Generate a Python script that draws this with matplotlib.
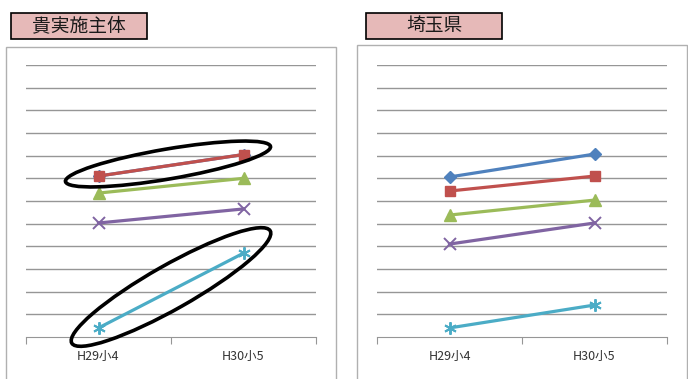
import matplotlib.pyplot as plt
from matplotlib.patches import Rectangle, Ellipse

plt.rcParams['font.family'] = ['Noto Sans CJK JP', 'DejaVu Sans']

categories = ["H29小4", "H30小5"]

# left panel
left_title = "貴実施主体"
left_blue = [7.1, 8.05]
left_red = [7.1, 8.05]
left_green = [6.35, 7.0]
left_purple = [5.03, 5.65]
left_cyan = [0.4, 3.7]

# right panel
right_title = "埼玉県"
right_blue = [7.06, 8.07]
right_red = [6.44, 7.1]
right_green = [5.38, 6.04]
right_purple = [4.1, 5.03]
right_cyan = [0.4, 1.41]

W, H = 688, 379
fig = plt.figure(figsize=(W / 100, H / 100), dpi=100)


def px_axes(x0, y0, x1, y1):
    # pixel box (top-left origin) -> figure fraction axes
    return fig.add_axes([x0 / W, 1 - y1 / H, (x1 - x0) / W, (y1 - y0) / H])


def draw_panel(x0, frame, box, title, blue, red, green, purple, cyan):
    # outer chart frame
    fx0, fy0, fx1, fy1 = frame
    fig.patches.append(Rectangle((fx0 / W, 1 - fy1 / H), (fx1 - fx0) / W, (fy1 - fy0) / H,
                                 transform=fig.transFigure, fill=False,
                                 edgecolor='#b0b0b0', linewidth=1.0))
    # title box
    bx0, by0, bx1, by1 = box
    fig.patches.append(Rectangle((bx0 / W, 1 - by1 / H), (bx1 - bx0) / W, (by1 - by0) / H,
                                 transform=fig.transFigure, facecolor='#e6b9b8',
                                 edgecolor='black', linewidth=1.2))
    fig.text((bx0 + bx1) / 2 / W, 1 - (by0 + by1) / 2 / H, title, ha='center', va='center',
             fontsize=13.5, color='#1a1a1a')

    ax = px_axes(x0, 65, x0 + 290, 337)
    ax.set_xlim(0, 2)
    ax.set_ylim(0, 12)
    for v in range(1, 13):
        ax.axhline(v, color='#969696', linewidth=1.0, zorder=1)
    for s in ax.spines.values():
        s.set_visible(False)
    ax.spines['bottom'].set_visible(True)
    ax.spines['bottom'].set_color('#969696')
    ax.set_yticks([])
    ax.set_xticks([0, 1, 2])
    ax.set_xticklabels([])
    ax.set_xticks([0.5, 1.5], minor=True)
    ax.set_xticklabels(categories, minor=True, fontsize=9, color='#333333')
    ax.tick_params(axis='x', which='major', length=5, color='#969696', direction='out')
    ax.tick_params(axis='x', which='minor', length=0, pad=9)

    xs = [0.5, 1.5]
    lw = 2.3
    ax.plot(xs, blue, color='#4f81bd', lw=lw, marker='D', ms=6, zorder=3)
    ax.plot(xs, red, color='#c0504d', lw=lw, marker='s', ms=7.5, zorder=4)
    ax.plot(xs, green, color='#9bbb59', lw=lw, marker='^', ms=8, zorder=3)
    ax.plot(xs, purple, color='#8064a2', lw=lw, marker='x', ms=8, mew=1.4, zorder=3)
    ax.plot(xs, cyan, color='#4bacc6', lw=lw, marker=(6, 2, 0), ms=9, mew=1.4, zorder=3)
    return ax


draw_panel(26, (6, 47, 336, 385), (11, 13, 147, 39), left_title,
           left_blue, left_red, left_green, left_purple, left_cyan)
draw_panel(377, (357, 45, 687, 385), (366, 13, 502, 39), right_title,
           right_blue, right_red, right_green, right_purple, right_cyan)

# highlight rings on the left chart (pixel centres, top-left origin)
for cx, cy, w, h, ang in [(168, 164, 208, 30, 9.7), (171, 287, 228, 44, 29.5)]:
    fig.patches.append(Ellipse((cx / 100, (H - cy) / 100), w / 100, h / 100, angle=ang,
                               transform=fig.dpi_scale_trans, fill=False,
                               edgecolor='black', linewidth=2.6, zorder=10))

fig.savefig('out.png', dpi=100)
